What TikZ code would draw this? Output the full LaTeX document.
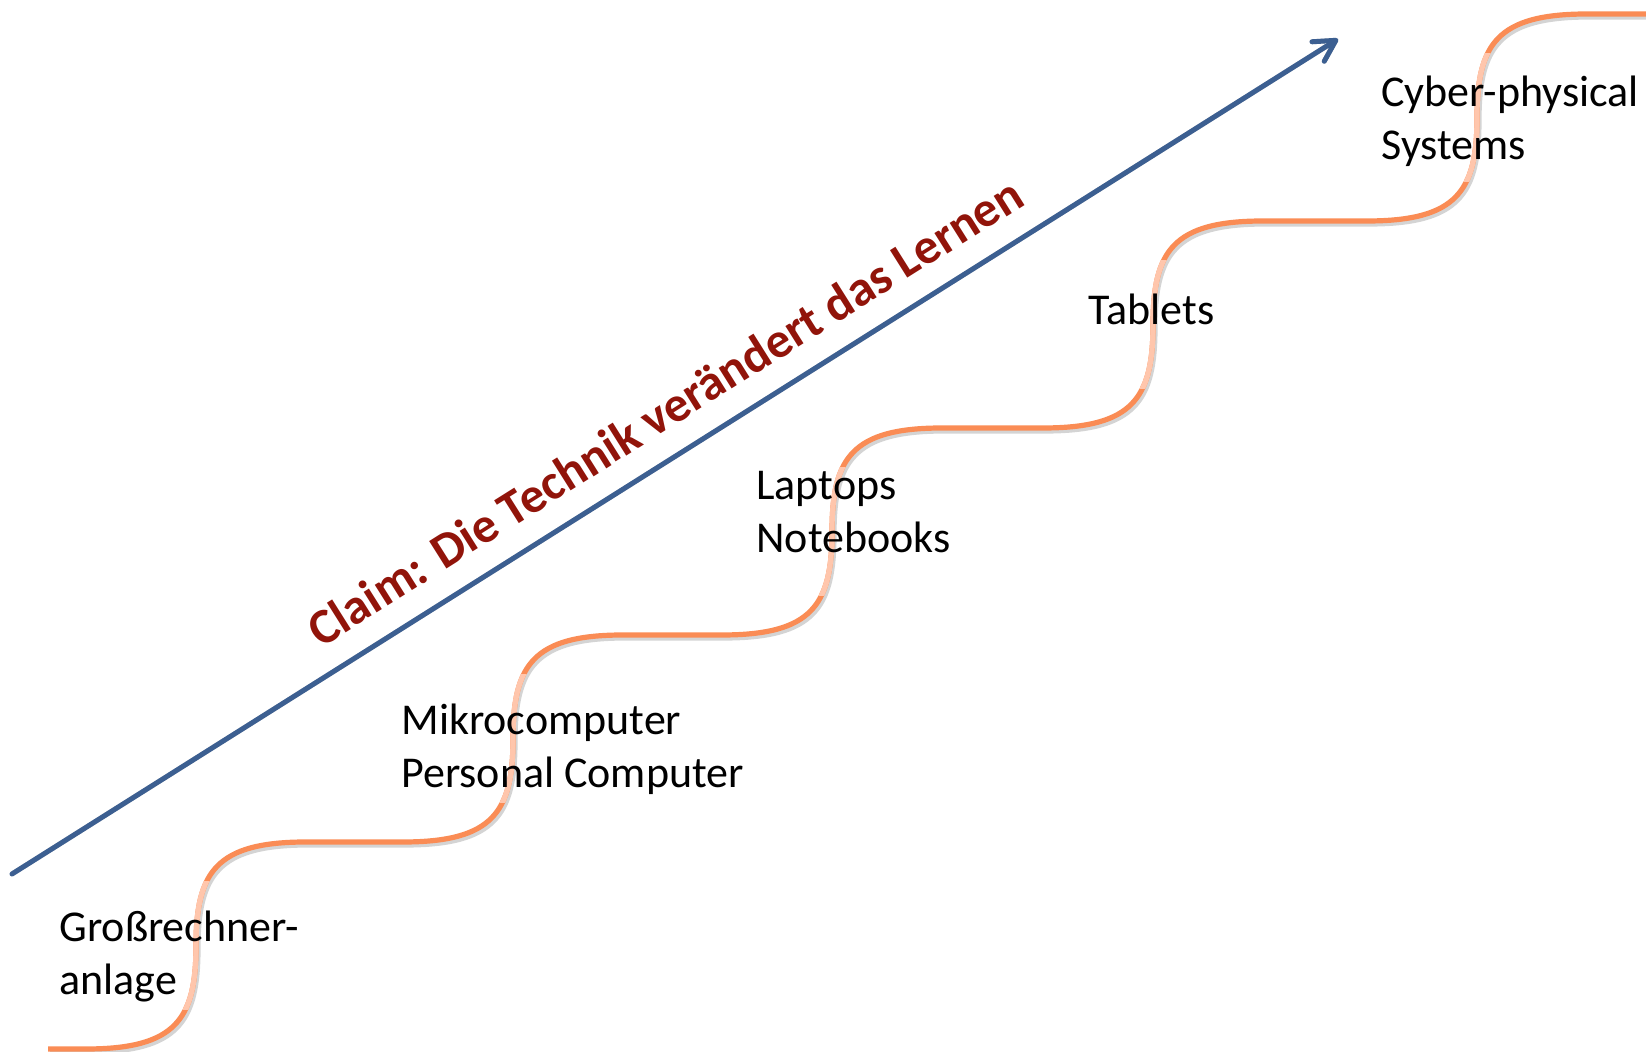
\documentclass[tikz,border=0pt]{standalone}
\usepackage{fontspec}
\setmainfont{Carlito}
\usetikzlibrary{arrows.meta}
\definecolor{wavecol}{RGB}{250,140,85}
\definecolor{wavelightcol}{RGB}{255,198,172}
\definecolor{arrowblue}{RGB}{60,95,145}
\definecolor{claimred}{RGB}{145,20,10}
\definecolor{shadecol}{RGB}{212,212,212}
\tikzset{
  waveline/.style={draw=wavecol, line width=2.6pt},
  wavelit/.style={draw=wavelightcol, line width=2.6pt},
  shadowline/.style={draw=shadecol, line width=2.6pt, xshift=1pt, yshift=-1.5pt},
  arrowline/.style={draw=arrowblue, line width=2.5pt, line cap=round,
    -{Straight Barb[length=10.5pt,width=11.5pt,round]}},
  arrowshadow/.style={draw=shadecol, line width=2.5pt, xshift=1pt, yshift=-1.5pt,
    -{Straight Barb[length=10.5pt,width=11.5pt,round]}},
  steplabel/.style={anchor=base west, inner sep=0pt, align=left,
    font=\fontsize{22pt}{26.5pt}\selectfont},
  claimtext/.style={anchor=base, inner sep=0pt, rotate=32.2, text=claimred,
    font=\bfseries\fontsize{25pt}{29pt}\selectfont}
}
\begin{document}
\begin{tikzpicture}[x=0.5pt,y=-0.5pt]
\useasboundingbox (0,0) rectangle (1646,1052);

% staircase wave: shadow
\draw[shadowline] (48,1049) -- (86,1049)
  .. controls (176,1049) and (196,1019) .. (196,945.5)
  .. controls (196,872) and (216,842) .. (306,842) -- (403,842)
  .. controls (493,842) and (513,812) .. (513,738.5)
  .. controls (513,665) and (533,635) .. (623,635) -- (722,635)
  .. controls (812,635) and (832,605) .. (832,531.5)
  .. controls (832,458) and (852,428) .. (942,428) -- (1043,428)
  .. controls (1133,428) and (1153,398) .. (1153,324.5)
  .. controls (1153,251) and (1173,221) .. (1263,221) -- (1367,221)
  .. controls (1457,221) and (1477,191) .. (1477,117.5)
  .. controls (1477,44) and (1497,14) .. (1587,14) -- (1650,14);
% staircase wave
\draw[waveline] (48,1049) -- (86,1049)
  .. controls (176,1049) and (196,1019) .. (196,945.5)
  .. controls (196,872) and (216,842) .. (306,842) -- (403,842)
  .. controls (493,842) and (513,812) .. (513,738.5)
  .. controls (513,665) and (533,635) .. (623,635) -- (722,635)
  .. controls (812,635) and (832,605) .. (832,531.5)
  .. controls (832,458) and (852,428) .. (942,428) -- (1043,428)
  .. controls (1133,428) and (1153,398) .. (1153,324.5)
  .. controls (1153,251) and (1173,221) .. (1263,221) -- (1367,221)
  .. controls (1457,221) and (1477,191) .. (1477,117.5)
  .. controls (1477,44) and (1497,14) .. (1587,14) -- (1650,14);
% lighter middle parts of each step
\foreach \xc/\ya/\yb in {196/1049/842, 513/842/635, 832/635/428, 1153/428/221, 1477/221/14} {
  \begin{scope}
    \clip (\xc-150,{(\ya+\yb)/2-64}) rectangle (\xc+150,{(\ya+\yb)/2+64});
    \draw[wavelit] (\xc-110,\ya) .. controls (\xc-20,\ya) and (\xc,\ya-30) .. (\xc,{(\ya+\yb)/2})
      .. controls (\xc,\yb+30) and (\xc+20,\yb) .. (\xc+110,\yb);
  \end{scope}
}

% arrow
\coordinate (tail) at (12,874);
\coordinate (tip) at (1338,39);
\draw[arrowshadow] (tail) -- (tip);
\draw[arrowline] (tail) -- (tip);
\node[claimtext] (claim) at (674,426) {Claim: Die Technik verändert das Lernen};

% labels (anchor: baseline of the last line)
\node[steplabel] (l1) at (59,995) {Großrechner-\\anlage};
\node[steplabel] (l2) at (401,788) {Mikrocomputer\\Personal Computer};
\node[steplabel] (l3) at (756,553) {Laptops\\Notebooks};
\node[steplabel] (l4) at (1088,325) {Tablets};
\node[steplabel] (l5) at (1381,160) {Cyber-physical\\Systems};
\end{tikzpicture}
\end{document}
